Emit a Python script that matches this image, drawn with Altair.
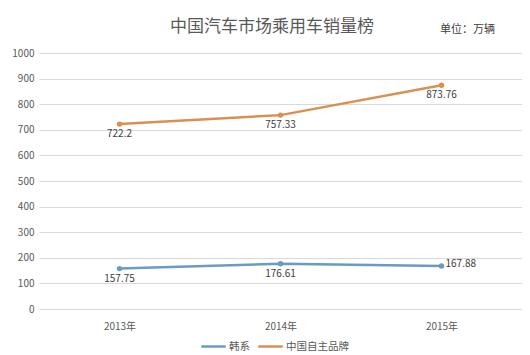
import altair as alt
import pandas as pd

years = ["2013年", "2014年", "2015年"]
korean = [157.75, 176.61, 167.88]
chinese = [722.2, 757.33, 873.76]
series_names = ["韩系", "中国自主品牌"]
colors = ["#6b9bc3", "#d8914f"]
y_ticks = [0, 100, 200, 300, 400, 500, 600, 700, 800, 900, 1000]
title_text = "中国汽车市场乘用车销量榜"
unit_text = "单位：万辆"

rows = []
for y, k, c in zip(years, korean, chinese):
    rows.append({"year": y, "series": series_names[0], "value": k})
    rows.append({"year": y, "series": series_names[1], "value": c})
df = pd.DataFrame(rows)

FONT = "Noto Sans CJK SC"

x = alt.X("year:N", sort=years, title=None,
          scale=alt.Scale(paddingInner=0, paddingOuter=0.5),
          axis=alt.Axis(labelAngle=0, domain=False, ticks=False, labelPadding=12,
                        labelFontSize=10, labelColor="#595959", labelFont=FONT, grid=False))
y = alt.Y("value:Q", title=None,
          scale=alt.Scale(domain=[0, 1000]),
          axis=alt.Axis(values=y_ticks, tickCount=11, format="d", labelOverlap=False,
                        domain=False, ticks=False,
                        labelPadding=5, labelFontSize=10, labelColor="#595959",
                        labelFont=FONT, gridColor="#d9d9d9", gridWidth=1))
color = alt.Color("series:N", sort=series_names,
                  scale=alt.Scale(domain=series_names, range=colors),
                  legend=alt.Legend(title=None, orient="none", legendX=161, legendY=280,
                                    direction="horizontal", labelFontSize=10.5,
                                    labelColor="#595959", labelFont=FONT,
                                    symbolType="stroke", symbolStrokeWidth=2.5,
                                    symbolSize=600, columnPadding=3, labelOffset=2))

base = alt.Chart(df)
lines = base.mark_line(strokeWidth=2.5, point=alt.OverlayMarkDef(size=30, filled=True)).encode(
    x=x, y=y, color=color)

label_below = base.transform_filter(
    "!(datum.series == '韩系' && datum.year == '2015年')"
).mark_text(dy=10, fontSize=10, color="#404040", font=FONT).encode(
    x=x, y=y, text=alt.Text("value:Q"))

label_right = base.transform_filter(
    "datum.series == '韩系' && datum.year == '2015年'"
).mark_text(dx=4, dy=-2, align="left", fontSize=10, color="#404040", font=FONT).encode(
    x=x, y=y, text=alt.Text("value:Q"))

title = alt.Chart(pd.DataFrame({"t": [title_text]})).mark_text(
    align="center", baseline="middle", fontSize=17, color="#595959", font=FONT
).encode(x=alt.value(233), y=alt.value(-26), text="t:N")

unit = alt.Chart(pd.DataFrame({"t": [unit_text]})).mark_text(
    align="left", baseline="middle", fontSize=11, color="#404040", font=FONT
).encode(x=alt.value(401), y=alt.value(-23), text="t:N")

chart = alt.layer(lines, label_below, label_right, title, unit).properties(
    width=483, height=256,
    autosize=alt.AutoSizeParams(type="none"),
    padding={"left": 31, "top": 45, "right": 0, "bottom": 42},
).configure_view(stroke=None)

chart.save("out.html", embed_options={"renderer": "svg", "actions": False})
